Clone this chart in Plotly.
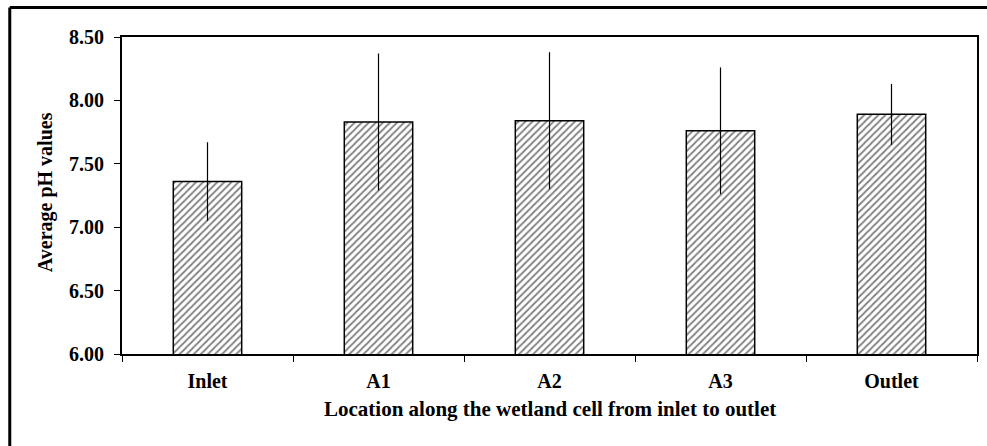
import plotly.graph_objects as go

# Average pH along the wetland cell, with standard deviation
locations = ["Inlet", "A1", "A2", "A3", "Outlet"]
mean_ph = [7.36, 7.83, 7.84, 7.76, 7.89]
sd_ph = [0.31, 0.54, 0.54, 0.50, 0.24]
y_ticks = [6.00, 6.50, 7.00, 7.50, 8.00, 8.50]

W, H = 987, 446
ML, MR, MT, MB = 122, 8, 37, 92
PW, PH = W - ML - MR, H - MT - MB

serif = "Liberation Serif, Times New Roman, serif"

fig = go.Figure(
    go.Bar(
        x=locations,
        y=mean_ph,
        base=0,
        marker=dict(
            color="white",
            line=dict(color="black", width=1.5),
            pattern=dict(shape="/", fgcolor="black", bgcolor="white",
                         size=5, solidity=0.35),
        ),
        error_y=dict(type="data", array=sd_ph, visible=True,
                     color="black", thickness=1.2, width=0),
        showlegend=False,
    )
)

fig.update_layout(
    width=W, height=H,
    margin=dict(l=ML, r=MR, t=MT, b=MB),
    paper_bgcolor="white", plot_bgcolor="white",
    bargap=0.6,
    font=dict(family=serif, size=20, color="black", weight="bold"),
)

fig.update_xaxes(
    type="category",
    showline=True, linecolor="black", linewidth=2, mirror=True,
    ticks="outside", ticklen=6, tickwidth=1, tickcolor="black",
    tickson="boundaries", showgrid=False,
    tickfont=dict(family=serif, size=20, weight="bold"),
    ticklabelstandoff=8,
)
fig.update_yaxes(
    range=[6, 8.5],
    tickvals=y_ticks,
    ticktext=[f"{v:.2f}" for v in y_ticks],
    showline=True, linecolor="black", linewidth=2, mirror=True,
    ticks="outside", ticklen=6, tickwidth=1, tickcolor="black",
    showgrid=False, zeroline=False,
    tickfont=dict(family=serif, size=20, weight="bold"),
    ticklabelstandoff=6,
)


def px_x(p):
    return (p - ML) / PW


def px_y(p):
    return (H - MB - p) / PH


# Axis titles
fig.add_annotation(
    text="Location along the wetland cell from inlet to outlet",
    xref="paper", yref="paper", x=px_x(551), y=px_y(409),
    showarrow=False, xanchor="center", yanchor="middle",
    font=dict(family=serif, size=21, weight="bold"),
)
fig.add_annotation(
    text="Average pH values",
    xref="paper", yref="paper", x=px_x(45), y=px_y(192),
    showarrow=False, xanchor="center", yanchor="middle", textangle=-90,
    font=dict(family=serif, size=20, weight="bold"),
)

# Outer frame (top and left edges)
fig.add_shape(type="line", xref="paper", yref="paper",
              x0=px_x(9.5), x1=px_x(W + 5), y0=px_y(7.5), y1=px_y(7.5),
              line=dict(color="black", width=3))
fig.add_shape(type="line", xref="paper", yref="paper",
              x0=px_x(9.5), x1=px_x(9.5), y0=px_y(7.5), y1=px_y(H + 5),
              line=dict(color="black", width=3))

fig.write_html("out.html")
